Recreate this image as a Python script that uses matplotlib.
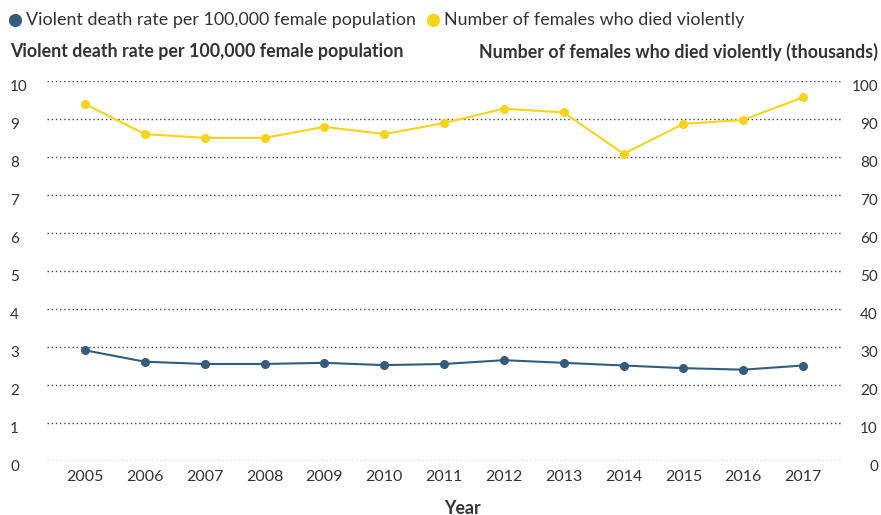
import numpy as np
import matplotlib
matplotlib.use('Agg')
import matplotlib.pyplot as plt
import matplotlib.transforms as mtransforms
from matplotlib.lines import Line2D

years = [2005, 2006, 2007, 2008, 2009, 2010, 2011, 2012, 2013, 2014, 2015, 2016, 2017]
death_rate = [2.9, 2.6, 2.54, 2.54, 2.57, 2.51, 2.54, 2.64, 2.57, 2.5, 2.43, 2.39, 2.5]
deaths_thousands = [93.8, 85.9, 84.9, 84.9, 87.8, 85.9, 88.8, 92.6, 91.6, 80.7, 88.6, 89.6, 95.6]
left_ticks = [0, 1, 2, 3, 4, 5, 6, 7, 8, 9, 10]
right_ticks = [0, 10, 20, 30, 40, 50, 60, 70, 80, 90, 100]

BLUE = '#355d7b'
YELLOW = '#f7d417'
TEXT = '#333333'

plt.rcParams['font.family'] = ['Lato', 'DejaVu Sans']
W, H = 881, 515
fig = plt.figure(figsize=(W / 100, H / 100), dpi=100)

# axes box in pixels: x 47..842, y(0)=460.5, y(10)=80.5
ax = fig.add_axes([47 / W, 1 - 460.5 / H, (842 - 47) / W, 380 / H])
ax2 = ax.twinx()

ax.set_xlim(2004.365, 2017.65)
ax.set_ylim(0, 10)
ax2.set_ylim(0, 100)

for a in (ax, ax2):
    for s in a.spines.values():
        s.set_visible(False)

ax.set_yticks(left_ticks)
ax2.set_yticks(right_ticks)
ax.set_xticks(years)
ax.grid(axis='y', linestyle=(0, (1, 2)), color='#444444', linewidth=1)
ax.set_axisbelow(True)

ax.tick_params(axis='y', length=0, pad=26.6, labelsize=11, labelcolor=TEXT)
ax.tick_params(axis='x', length=0, pad=7, labelsize=11.5, labelcolor=TEXT)
ax2.tick_params(axis='y', length=0, pad=25.9, labelsize=11, labelcolor=TEXT)

off = mtransforms.ScaledTranslation(0, -5 / 100, fig.dpi_scale_trans)
for lbl in ax.get_yticklabels():
    lbl.set_horizontalalignment('left')
    lbl.set_transform(lbl.get_transform() + off)
for lbl in ax2.get_yticklabels():
    lbl.set_horizontalalignment('right')
    lbl.set_transform(lbl.get_transform() + off)

ax.plot(years, death_rate, color=BLUE, lw=1.5, marker='o', ms=5.5, zorder=3)
ax2.plot(years, deaths_thousands, color=YELLOW, lw=1.5, marker='o', ms=5.5, zorder=3)

# legend
for x, c, label in [(15, BLUE, 'Violent death rate per 100,000 female population'),
                    (433, YELLOW, 'Number of females who died violently')]:
    fig.add_artist(Line2D([x / W], [1 - 20 / H], marker='o', ms=8.5, color=c,
                          transform=fig.transFigure))
    fig.text((x + 11) / W, 1 - 20 / H, label, fontsize=12.9, color=TEXT,
             ha='left', va='center')

fig.text(10 / W, 1 - 52 / H, 'Violent death rate per 100,000 female population',
         fontsize=12.8, fontweight='bold', color=TEXT, ha='left', va='center')
fig.text(878 / W, 1 - 52 / H, 'Number of females who died violently (thousands)',
         fontsize=12.8, fontweight='bold', color=TEXT, ha='right', va='center')
fig.text(463 / W, 1 - 508 / H, 'Year', fontsize=12.8, fontweight='bold',
         color=TEXT, ha='center', va='center')

fig.savefig('out.png', dpi=100)
